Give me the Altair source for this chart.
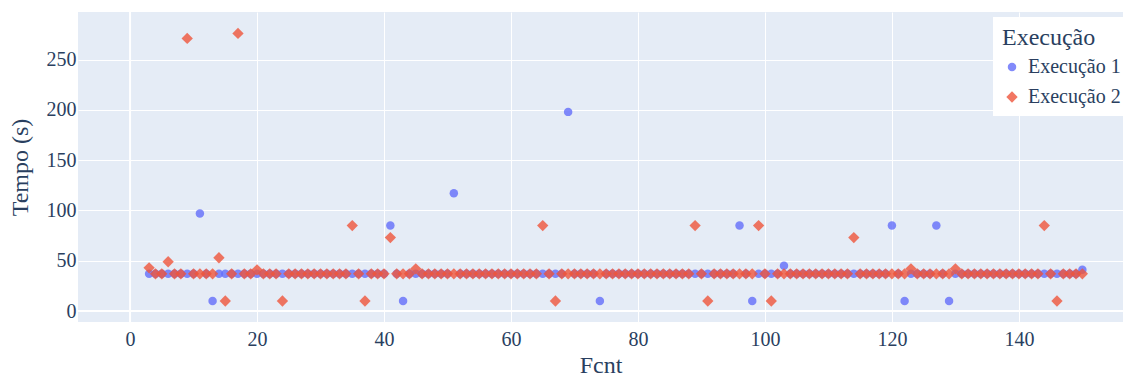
import altair as alt
import pandas as pd

fcnt = list(range(3, 151))

exec1 = [
    37, 37, 37, 37, 37, 37, 37, 37, 97, 37,     # 3-12
    10, 37, 37, 37, 37, 37, 37, 37, 37, 37,     # 13-22
    37, 37, 37, 37, 37, 37, 37, 37, 37, 37,     # 23-32
    37, 37, 37, 37, 37, 37, 37, 37, 85, 37,     # 33-42
    10, 37, 37, 37, 37, 37, 37, 37, 117, 37,    # 43-52
    37, 37, 37, 37, 37, 37, 37, 37, 37, 37,     # 53-62
    37, 37, 37, 37, 37, 37, 198, 37, 37, 37,    # 63-72
    37, 10, 37, 37, 37, 37, 37, 37, 37, 37,     # 73-82
    37, 37, 37, 37, 37, 37, 37, 37, 37, 37,     # 83-92
    37, 37, 37, 85, 37, 10, 37, 37, 37, 37,     # 93-102
    45, 37, 37, 37, 37, 37, 37, 37, 37, 37,     # 103-112
    37, 37, 37, 37, 37, 37, 37, 85, 37, 10,     # 113-122
    37, 37, 37, 37, 85, 37, 10, 37, 37, 37,     # 123-132
    37, 37, 37, 37, 37, 37, 37, 37, 37, 37,     # 133-142
    37, 37, 37, 37, 37, 37, 37, 41,             # 143-150
]

exec2 = [
    43, 37, 37, 49, 37, 37, 271, 37, 37, 37,    # 3-12
    37, 53, 10, 37, 276, 37, 37, 41, 37, 37,    # 13-22
    37, 10, 37, 37, 37, 37, 37, 37, 37, 37,     # 23-32
    37, 37, 85, 37, 10, 37, 37, 37, 73, 37,     # 33-42
    37, 37, 42, 37, 37, 37, 37, 37, 37, 37,     # 43-52
    37, 37, 37, 37, 37, 37, 37, 37, 37, 37,     # 53-62
    37, 37, 85, 37, 10, 37, 37, 37, 37, 37,     # 63-72
    37, 37, 37, 37, 37, 37, 37, 37, 37, 37,     # 73-82
    37, 37, 37, 37, 37, 37, 85, 37, 10, 37,     # 83-92
    37, 37, 37, 37, 37, 37, 85, 37, 10, 37,     # 93-102
    37, 37, 37, 37, 37, 37, 37, 37, 37, 37,     # 103-112
    37, 73, 37, 37, 37, 37, 37, 37, 37, 37,     # 113-122
    42, 37, 37, 37, 37, 37, 37, 42, 37, 37,     # 123-132
    37, 37, 37, 37, 37, 37, 37, 37, 37, 37,     # 133-142
    37, 85, 37, 10, 37, 37, 37, 37,             # 143-150
]

series = ["Execução 1", "Execução 2"]
xticks = [0, 20, 40, 60, 80, 100, 120, 140]
yticks = [0, 50, 100, 150, 200, 250]

df = pd.DataFrame({
    "Fcnt": fcnt + fcnt,
    "Tempo": exec1 + exec2,
    "Execução": [series[0]] * len(fcnt) + [series[1]] * len(fcnt),
    "ord": [0] * len(fcnt) + [1] * len(fcnt),
})

FONT = "Liberation Serif"
TXT = "#2a3f5f"

xscale = alt.Scale(domain=[-8.2, 156.4], nice=False, zero=False)
yscale = alt.Scale(domain=[-10.9, 297.3], nice=False, zero=False)

zx = alt.Chart(pd.DataFrame({"x": [0]})).mark_rule(color="white", strokeWidth=2).encode(
    x=alt.X("x:Q", scale=xscale)
)
zy = alt.Chart(pd.DataFrame({"y": [0]})).mark_rule(color="white", strokeWidth=2).encode(
    y=alt.Y("y:Q", scale=yscale)
)

legend = alt.Legend(
    title="Execução",
    orient="none",
    legendX=915,
    legendY=5,
    fillColor="white",
    padding=9,
    titleFont=FONT,
    titleFontSize=24,
    titleFontWeight="normal",
    titleColor=TXT,
    titlePadding=7,
    labelFont=FONT,
    labelFontSize=20,
    labelColor=TXT,
    labelOffset=6,
    symbolOffset=0,
    labelLimit=200,
    rowPadding=10,
    symbolOpacity=0.8,
)

pts = alt.Chart(df).mark_point(filled=True, opacity=0.8).encode(
    x=alt.X("Fcnt:Q", scale=xscale, title="Fcnt",
            axis=alt.Axis(values=xticks)),
    y=alt.Y("Tempo:Q", scale=yscale, title="Tempo (s)",
            axis=alt.Axis(values=yticks)),
    color=alt.Color("Execução:N", scale=alt.Scale(domain=series, range=["#636efa", "#EF553B"]), legend=legend),
    shape=alt.Shape("Execução:N", scale=alt.Scale(domain=series, range=["circle", "diamond"]), legend=legend),
    size=alt.Size("Execução:N", scale=alt.Scale(domain=series, range=[72, 128]), legend=legend),
    order=alt.Order("ord:Q"),
)

chart = alt.layer(zx, zy, pts).properties(
    width=1045,
    height=310,
    autosize=alt.AutoSizeParams(type="none"),
    padding={"left": 70, "top": 4, "right": 0, "bottom": 56},
).configure(
    font=FONT,
).configure_view(
    stroke=None, fill="#E5ECF6"
).configure_axis(
    grid=True,
    gridColor="white",
    gridWidth=1,
    domain=False,
    ticks=False,
    labelFont=FONT,
    labelFontSize=20,
    labelColor=TXT,
    titleFont=FONT,
    titleFontSize=24,
    titleFontWeight="normal",
    titleColor=TXT,
).configure_axisX(
    labelPadding=7,
    titlePadding=4,
).configure_axisY(
    labelPadding=2,
    titlePadding=14,
)

chart.save("out.html", embed_options={"renderer": "svg", "actions": False})
